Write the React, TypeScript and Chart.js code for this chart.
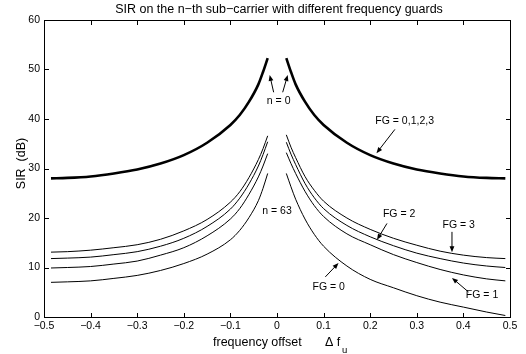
import React, { useEffect, useRef } from "react";
import { Chart, registerables } from "chart.js";

Chart.register(...registerables);

// ---- data ----
const xLeft = [-0.485, -0.45, -0.4, -0.35, -0.3, -0.25, -0.2, -0.15, -0.1, -0.08, -0.06, -0.04, -0.03, -0.02];
const xRight = [0.02, 0.03, 0.04, 0.06, 0.08, 0.1, 0.15, 0.2, 0.25, 0.3, 0.35, 0.4, 0.45, 0.49];

// n = 0 (FG = 0,1,2,3 coincide)
const n0Left = [28.0, 28.1, 28.4, 29.0, 29.8, 31.0, 32.7, 35.2, 38.8, 40.8, 43.5, 47.0, 49.5, 52.3];
const n0Right = [52.3, 49.5, 47.0, 43.5, 40.8, 38.8, 35.2, 32.7, 31.0, 29.8, 29.0, 28.4, 28.1, 28.0];

// n = 63
const fg3Left = [13.1, 13.2, 13.5, 14.0, 14.6, 15.7, 17.4, 19.7, 23.2, 25.3, 28.2, 31.8, 34.0, 36.6];
const fg2Left = [11.8, 11.9, 12.1, 12.6, 13.2, 14.3, 15.9, 18.3, 21.8, 24.0, 26.9, 30.5, 32.8, 35.4];
const fg1Left = [9.9, 10.0, 10.2, 10.7, 11.3, 12.5, 14.0, 16.4, 19.8, 21.9, 24.8, 28.3, 30.5, 33.0];
const fg0Left = [7.0, 7.1, 7.3, 7.8, 8.4, 9.4, 10.8, 12.7, 15.6, 17.5, 20.1, 23.5, 26.0, 29.0];

const fg3Right = [36.8, 34.3, 32.2, 28.4, 25.6, 23.4, 20.0, 17.7, 15.9, 14.5, 13.3, 12.5, 12.0, 11.8];
const fg2Right = [35.3, 32.9, 30.8, 27.0, 24.1, 21.9, 18.5, 16.2, 14.4, 12.9, 11.8, 10.9, 10.3, 10.0];
const fg1Right = [33.2, 31.0, 29.0, 25.4, 22.5, 20.3, 16.8, 14.6, 12.6, 11.0, 9.6, 8.5, 7.7, 7.3];
const fg0Right = [29.0, 26.3, 23.8, 19.8, 16.7, 14.3, 10.3, 7.6, 5.9, 4.3, 3.0, 2.0, 1.0, 0.3];

const xTickValues = [-0.5, -0.4, -0.3, -0.2, -0.1, 0, 0.1, 0.2, 0.3, 0.4, 0.5];
const xTickLabels = ["\u22120.5", "\u22120.4", "\u22120.3", "\u22120.2", "\u22120.1", "0", "0.1", "0.2", "0.3", "0.4", "0.5"];
const yTickValues = [0, 10, 20, 30, 40, 50, 60];
const yTickLabels = ["0", "10", "20", "30", "40", "50", "60"];

const titleText = "SIR on the n\u2212th sub\u2212carrier with different frequency guards";

// annotation texts and arrows in data coordinates
const labelTexts = ["n = 0", "n = 63", "FG = 0,1,2,3", "FG = 2", "FG = 3", "FG = 1", "FG = 0"];
const labelX = [0.0036, 0.0, 0.211, 0.262, 0.39, 0.44, 0.111];
const labelY = [43.6, 21.4, 39.6, 20.7, 18.5, 4.4, 6.1];
const labelAlign = ["center", "center", "left", "center", "center", "center", "center"];

const arrowTail = [
  [-0.0072, 45.4], [0.0122, 45.4], [0.253, 37.9], [0.236, 18.9], [0.3755, 17.2], [0.411, 5.05], [0.1037, 8.1],
];
const arrowHead = [
  [-0.0157, 48.9], [0.023, 48.9], [0.2135, 33.1], [0.2146, 15.6], [0.3755, 13.1], [0.3755, 7.9], [0.132, 10.9],
];

const FONT = '"Liberation Sans", Arial, Helvetica, sans-serif';

function drawArrow(ctx: CanvasRenderingContext2D, x1: number, y1: number, x2: number, y2: number) {
  const ang = Math.atan2(y2 - y1, x2 - x1);
  const len = 6;
  const hw = 2.4;
  ctx.beginPath();
  ctx.moveTo(x1, y1);
  ctx.lineTo(x2 - Math.cos(ang) * len * 0.8, y2 - Math.sin(ang) * len * 0.8);
  ctx.stroke();
  ctx.beginPath();
  ctx.moveTo(x2, y2);
  ctx.lineTo(x2 - Math.cos(ang) * len - Math.sin(ang) * hw, y2 - Math.sin(ang) * len + Math.cos(ang) * hw);
  ctx.lineTo(x2 - Math.cos(ang) * len + Math.sin(ang) * hw, y2 - Math.sin(ang) * len - Math.cos(ang) * hw);
  ctx.closePath();
  ctx.fill();
}

const overlay = {
  id: "overlay",
  afterDraw(chart: any) {
    const { ctx, chartArea: a, scales } = chart;
    const xs = scales.x;
    const ys = scales.y;
    ctx.save();
    ctx.strokeStyle = "#000";
    ctx.fillStyle = "#000";
    ctx.lineWidth = 1;
    const L = Math.round(a.left) + 0.5;
    const R = Math.round(a.right) + 0.5;
    const T = Math.round(a.top) + 0.5;
    const B = Math.round(a.bottom) + 0.5;
    ctx.strokeRect(L, T, R - L, B - T);
    const tl = 4.5;
    ctx.beginPath();
    xTickValues.forEach((v) => {
      const p = Math.round(xs.getPixelForValue(v)) + 0.5;
      ctx.moveTo(p, B);
      ctx.lineTo(p, B - tl);
      ctx.moveTo(p, T);
      ctx.lineTo(p, T + tl);
    });
    yTickValues.forEach((v) => {
      const p = Math.round(ys.getPixelForValue(v)) + 0.5;
      ctx.moveTo(L, p);
      ctx.lineTo(L + tl, p);
      ctx.moveTo(R, p);
      ctx.lineTo(R - tl, p);
    });
    ctx.stroke();

    // annotation labels
    ctx.font = `10.5px ${FONT}`;
    ctx.textBaseline = "middle";
    labelTexts.forEach((t, i) => {
      ctx.textAlign = labelAlign[i] as CanvasTextAlign;
      ctx.fillText(t, xs.getPixelForValue(labelX[i]), ys.getPixelForValue(labelY[i]));
    });
    // arrows
    ctx.lineWidth = 1;
    arrowTail.forEach((t, i) => {
      const h = arrowHead[i];
      drawArrow(
        ctx,
        xs.getPixelForValue(t[0]),
        ys.getPixelForValue(t[1]),
        xs.getPixelForValue(h[0]),
        ys.getPixelForValue(h[1])
      );
    });

    // title
    ctx.font = `12.5px ${FONT}`;
    ctx.textAlign = "center";
    ctx.textBaseline = "middle";
    ctx.fillText(titleText, 279, 10);

    // y axis title
    ctx.save();
    ctx.translate(21.5, (a.top + a.bottom) / 2 - 5);
    ctx.rotate(-Math.PI / 2);
    ctx.textAlign = "center";
    ctx.textBaseline = "middle";
    ctx.font = `12.5px ${FONT}`;
    ctx.fillText("SIR  (dB)", 0, 0);
    ctx.restore();

    // x axis title with subscript
    ctx.textAlign = "left";
    ctx.textBaseline = "alphabetic";
    ctx.font = `12.5px ${FONT}`;
    ctx.fillText("frequency offset", 213, 345.5);
    ctx.fillText("\u0394 f", 325, 345.5);
    ctx.font = `9.5px ${FONT}`;
    ctx.fillText("u", 342, 353);
    ctx.restore();
  },
};

export default function App() {
  const ref = useRef<HTMLCanvasElement>(null);
  useEffect(() => {
    document.body.style.margin = "0";
    const canvas = ref.current!;
    const mk = (xv: number[], yv: number[], w: number) => ({
      data: xv.map((x, i) => ({ x, y: yv[i] })),
      borderColor: "#000",
      backgroundColor: "#000",
      borderWidth: w,
      pointRadius: 0,
      fill: false,
      cubicInterpolationMode: "monotone" as const,
    });
    const datasets = [
      mk(xLeft, n0Left, 2.6),
      mk(xRight, n0Right, 2.6),
      mk(xLeft, fg3Left, 1),
      mk(xLeft, fg2Left, 1),
      mk(xLeft, fg1Left, 1),
      mk(xLeft, fg0Left, 1),
      mk(xRight, fg3Right, 1),
      mk(xRight, fg2Right, 1),
      mk(xRight, fg1Right, 1),
      mk(xRight, fg0Right, 1),
    ];
    const tickFont = { family: FONT, size: 10.5 };
    const chart = new Chart(canvas, {
      type: "line",
      data: { datasets } as any,
      options: {
        animation: false,
        responsive: false,
        maintainAspectRatio: false,
        layout: { padding: { top: 20, right: 16, left: 0, bottom: 0 } },
        plugins: { legend: { display: false }, tooltip: { enabled: false }, title: { display: false } },
        scales: {
          x: {
            type: "linear",
            min: -0.5,
            max: 0.5,
            grid: { display: false, drawTicks: false },
            border: { display: false },
            afterBuildTicks: (s: any) => {
              s.ticks = xTickValues.map((v) => ({ value: v }));
            },
            afterFit: (s: any) => {
              s.height = 37;
            },
            ticks: {
              autoSkip: false,
              maxRotation: 0,
              padding: 3,
              color: "#000",
              font: tickFont,
              callback: (_v: any, i: number) => xTickLabels[i],
            },
          },
          y: {
            type: "linear",
            min: 0,
            max: 60,
            grid: { display: false, drawTicks: false },
            border: { display: false },
            afterBuildTicks: (s: any) => {
              s.ticks = yTickValues.map((v) => ({ value: v }));
            },
            afterFit: (s: any) => {
              s.width = 44;
            },
            ticks: {
              autoSkip: false,
              padding: 4,
              color: "#000",
              font: tickFont,
              callback: (_v: any, i: number) => yTickLabels[i],
            },
          },
        },
      } as any,
      plugins: [overlay],
    });
    return () => chart.destroy();
  }, []);
  return (
    <div style={{ width: 526, height: 354 }}>
      <canvas ref={ref} width={526} height={354} style={{ display: "block" }} />
    </div>
  );
}
